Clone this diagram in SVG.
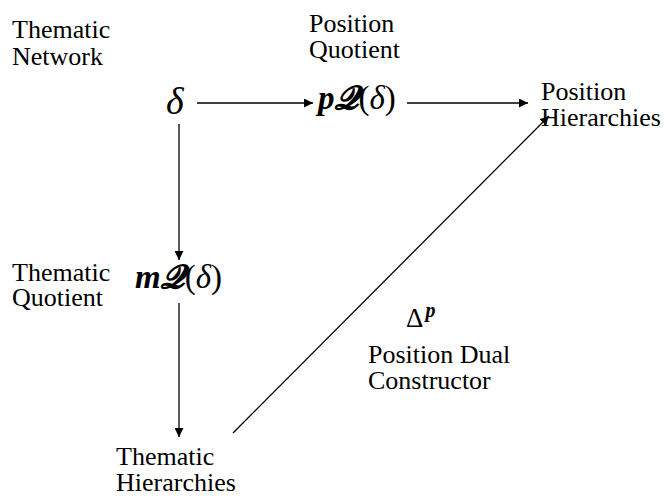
<svg xmlns="http://www.w3.org/2000/svg" width="669" height="497" viewBox="0 0 669 497">
<defs>
<marker id="ah" viewBox="0 0 10 10" refX="10" refY="5" markerWidth="9" markerHeight="9" markerUnits="userSpaceOnUse" orient="auto">
<path d="M0,0 L10,5 L0,10 Z" fill="#000"/>
</marker>
</defs>
<rect width="669" height="497" fill="#fff"/>
<g id="connectors" stroke="#000" stroke-width="1.3" fill="none">
<line x1="197" y1="103" x2="313" y2="103" marker-end="url(#ah)"/>
<line x1="407" y1="103" x2="528" y2="103" marker-end="url(#ah)"/>
<line x1="179" y1="124" x2="179" y2="260" marker-end="url(#ah)"/>
<line x1="179" y1="303" x2="179" y2="437" marker-end="url(#ah)"/>
<line x1="233" y1="433" x2="549" y2="116" marker-end="url(#ah)"/>
</g>
<g id="thematic-network">
<text x="12" y="38" style="font-family:'Liberation Serif',serif;font-size:26px">Thematic</text>
<text x="12" y="65" style="font-family:'Liberation Serif',serif;font-size:26px">Network</text>
<text x="166" y="114" style="font-family:'Liberation Serif',serif;font-size:38px;font-style:italic">&#948;</text>
</g>
<g id="position-quotient">
<text x="309" y="32" style="font-family:'Liberation Serif',serif;font-size:26px">Position</text>
<text x="309" y="58" style="font-family:'Liberation Serif',serif;font-size:26px">Quotient</text>
<text x="318" y="109" style="font-family:'Liberation Serif',serif;font-size:33px"><tspan style="font-weight:bold;font-style:italic">p&#120032;</tspan>(<tspan style="font-style:italic">&#948;</tspan>)</text>
</g>
<g id="position-hierarchies">
<text x="541" y="100" style="font-family:'Liberation Serif',serif;font-size:26px">Position</text>
<text x="541" y="126" style="font-family:'Liberation Serif',serif;font-size:26px">Hierarchies</text>
</g>
<g id="thematic-quotient">
<text x="12" y="281" style="font-family:'Liberation Serif',serif;font-size:26px">Thematic</text>
<text x="12" y="306" style="font-family:'Liberation Serif',serif;font-size:26px">Quotient</text>
<text x="135" y="288" style="font-family:'Liberation Serif',serif;font-size:33px"><tspan style="font-weight:bold;font-style:italic">m&#120032;</tspan>(<tspan style="font-style:italic">&#948;</tspan>)</text>
</g>
<g id="thematic-hierarchies">
<text x="116" y="465" style="font-family:'Liberation Serif',serif;font-size:26px">Thematic</text>
<text x="116" y="491" style="font-family:'Liberation Serif',serif;font-size:26px">Hierarchies</text>
</g>
<g id="position-dual-constructor">
<text x="406" y="327" style="font-family:'Liberation Serif',serif;font-size:27px">&#916;<tspan dx="2" dy="-10" style="font-size:20px;font-weight:bold;font-style:italic">p</tspan></text>
<text x="368" y="363" style="font-family:'Liberation Serif',serif;font-size:26px">Position Dual</text>
<text x="368" y="389" style="font-family:'Liberation Serif',serif;font-size:26px">Constructor</text>
</g>
</svg>
